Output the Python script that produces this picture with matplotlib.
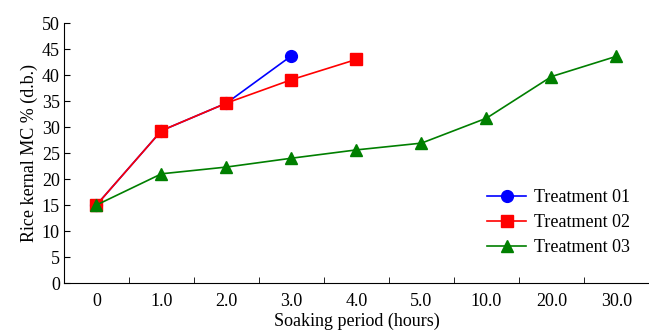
import matplotlib
matplotlib.use("Agg")
import matplotlib.pyplot as plt

categories = ["0", "1.0", "2.0", "3.0", "4.0", "5.0", "10.0", "20.0", "30.0"]
t1 = [15.0, 29.3, 34.6, 43.7]
t2 = [15.0, 29.3, 34.6, 39.1, 43.0]
t3 = [15.0, 21.0, 22.3, 24.0, 25.6, 26.9, 31.7, 39.7, 43.6]

plt.rcParams['font.family'] = ['Liberation Serif', 'DejaVu Serif']

fig = plt.figure(figsize=(6.49, 3.31), dpi=100)
ax = fig.add_axes([0.0986, 0.145, 0.9014, 0.7855])

x = list(range(len(categories)))
ax.plot(x[:len(t1)], t1, color='#0000ff', marker='o', markersize=8.5, lw=1.2, label='Treatment 01')
ax.plot(x[:len(t2)], t2, color='#ff0000', marker='s', markersize=8.5, lw=1.2, label='Treatment 02')
ax.plot(x[:len(t3)], t3, color='#007f00', marker='^', markersize=8.5, lw=1.2, label='Treatment 03')

ax.set_xlim(-0.5, 8.5)
ax.set_ylim(0, 50)
ax.set_yticks(range(0, 51, 5))
ax.set_xticks(x)
ax.set_xticklabels(categories)
ax.set_xticks([i + 0.5 for i in range(-1, 9)], minor=True)
ax.tick_params(axis='x', which='major', length=0, labelsize=13, pad=7)
ax.tick_params(axis='x', which='minor', direction='in', length=4)
ax.tick_params(axis='y', direction='in', length=4, labelsize=13, pad=3)
for s in ['top', 'right']:
    ax.spines[s].set_visible(False)
ax.set_xlabel('Soaking period (hours)', fontsize=13, labelpad=2)
ax.set_ylabel('Rice kernal MC % (d.b.)', fontsize=13, labelpad=3)
ax.legend(loc='lower right', bbox_to_anchor=(0.995, 0.04), frameon=False, fontsize=13,
          handlelength=2.2, labelspacing=0.45, handletextpad=0.4)

fig.savefig('out.png', dpi=100)
